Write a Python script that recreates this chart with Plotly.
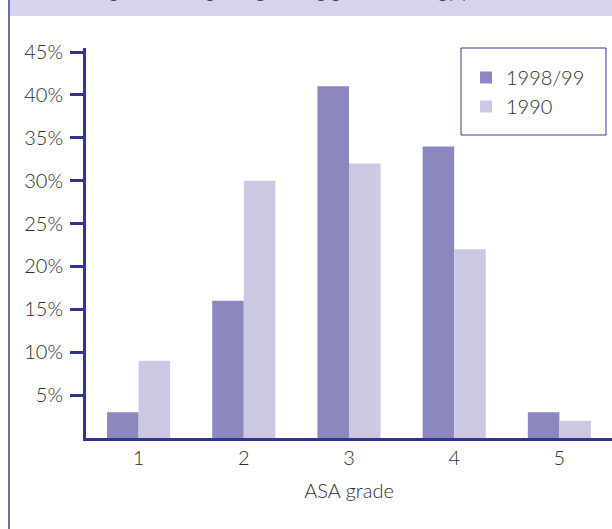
import plotly.graph_objects as go

categories = ["1", "2", "3", "4", "5"]
series_9899 = [3, 16, 41, 34, 3]
series_1990 = [9, 30, 32, 22, 2]
y_tick_vals = [5, 10, 15, 20, 25, 30, 35, 40, 45]
y_tick_text = ["5%", "10%", "15%", "20%", "25%", "30%", "35%", "40%", "45%"]

dark = "#8b88c0"
light = "#cbc8e4"
axis_col = "#343496"
text_col = "#2e2e2e"
font_family = "Lato, 'Open Sans', sans-serif"

fig = go.Figure()
fig.add_trace(go.Bar(x=categories, y=series_9899, name="1998/99", legendgroup="a",
                     marker=dict(color=dark, line=dict(width=0))))
fig.add_trace(go.Bar(x=categories, y=series_1990, name="1990", legendgroup="b",
                     marker=dict(color=light, line=dict(width=0))))

L, R, T, B = 86, 0, 48, 91
W, H = 612, 529
pw = W - L - R
ph = H - T - B

def px_x(x):
    return (x - L) / pw

def px_y(y):
    return 1 + (T - y) / ph

fig.update_layout(
    width=W, height=H,
    margin=dict(l=L, r=R, t=T, b=B, pad=0),
    paper_bgcolor="white", plot_bgcolor="white",
    barmode="group", bargap=0.4, bargroupgap=0,
    font=dict(family=font_family, size=17, color=text_col, weight=300),
    showlegend=True,
    legend=dict(
        x=px_x(466), y=px_y(58), xanchor="left", yanchor="top",
        borderwidth=0, bgcolor="rgba(0,0,0,0)",
        font=dict(size=20, color=text_col, weight=300),
        tracegroupgap=0, itemwidth=30,
    ),
    xaxis=dict(
        range=[-0.5, 4.5], showgrid=False, zeroline=False,
        showline=True, linecolor=axis_col, linewidth=3,
        ticks="", tickfont=dict(size=20, color=text_col, weight=300),
        title=dict(text="ASA grade", font=dict(size=20, color=text_col, weight=300), standoff=16),
    ),
    yaxis=dict(
        range=[0, 45.47], showgrid=False, zeroline=False,
        showline=True, linecolor=axis_col, linewidth=3,
        ticks="outside", ticklen=13, tickwidth=2.5, tickcolor=axis_col,
        ticklabelstandoff=3,
        tickvals=y_tick_vals, ticktext=y_tick_text,
        tickfont=dict(size=20, color=text_col, weight=300),
    ),
    shapes=[
        dict(type="rect", xref="paper", yref="paper",
             x0=px_x(8), x1=px_x(612), y0=px_y(16), y1=px_y(-10),
             fillcolor="#d6d4ea", line=dict(width=0), layer="below"),
        dict(type="line", xref="paper", yref="paper",
             x0=px_x(9), x1=px_x(9), y0=px_y(-10), y1=px_y(540),
             line=dict(color="#6b6bb5", width=2)),
        dict(type="rect", xref="paper", yref="paper",
             x0=px_x(461), x1=px_x(606), y0=px_y(135), y1=px_y(48),
             fillcolor="rgba(0,0,0,0)", line=dict(color=axis_col, width=1)),
    ],
    annotations=[
        dict(text="Figure 1 ASA grading among general urology patients", xref="paper", yref="paper",
             x=px_x(310), y=px_y(-10), xanchor="center", yanchor="middle",
             showarrow=False, font=dict(size=19, color="#222")),
    ],
)

fig.write_html("out.html", config={"displayModeBar": False},
               post_script="document.body.style.margin='0';document.body.style.padding='0';")
